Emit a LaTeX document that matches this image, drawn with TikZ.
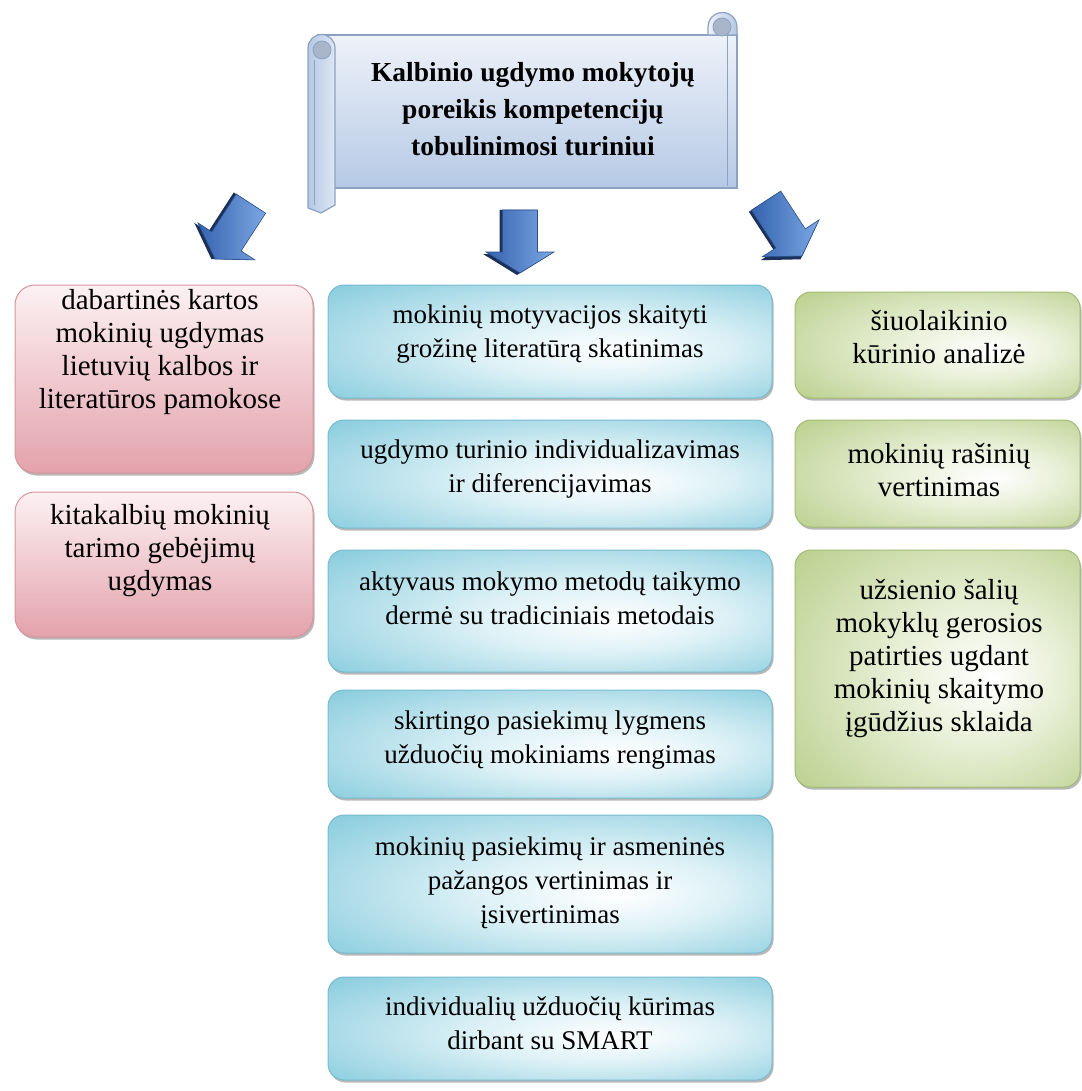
\documentclass[tikz,border=0pt]{standalone}
\usepackage{fontspec}
\setmainfont{Liberation Serif}
\usetikzlibrary{shadows}

% palette
\definecolor{pinkTop}{HTML}{FCF1F3}
\definecolor{pinkBot}{HTML}{E3A2AB}
\definecolor{pinkLine}{HTML}{D7939C}
\definecolor{blueEdge}{HTML}{86CBDD}
\definecolor{blueMid}{HTML}{DDF1F6}
\definecolor{blueLine}{HTML}{78BBCF}
\definecolor{greenEdge}{HTML}{B9CF8C}
\definecolor{greenMid}{HTML}{E9F0D8}
\definecolor{greenLine}{HTML}{A2BC72}
\definecolor{scrollTop}{HTML}{EEF2F9}
\definecolor{scrollBot}{HTML}{B5C9E5}
\definecolor{scrollLine}{HTML}{8CA2C2}
\definecolor{curlFill}{HTML}{A9B6C9}
\definecolor{arrowLight}{HTML}{7BA7E4}
\definecolor{arrowDark}{HTML}{3563AE}
\definecolor{arrowShade}{HTML}{1C3159}

\pgfdeclareradialshading{cyanglow}{\pgfpoint{8bp}{-4bp}}{%
  color(0bp)=(white); color(14bp)=(blueMid); color(38bp)=(blueEdge); color(50bp)=(blueEdge)}
\pgfdeclareradialshading{greenglow}{\pgfpoint{10bp}{-2bp}}{%
  color(0bp)=(white); color(14bp)=(greenMid); color(38bp)=(greenEdge); color(50bp)=(greenEdge)}

% block arrow: tip point, direction angle, length
\newcommand\dropArrow[3]{%
  \begin{scope}[shift={#1}, rotate=#2]
    \fill[arrowShade] (2,-3) -- (-19,31) -- (-19,14.5) -- (-#3,14.5) -- (-#3,-20.5)
      -- (-19,-20.5) -- (-19,-37) -- cycle;
    \path[draw=arrowDark!80!black, line width=0.6pt, left color=arrowDark, right color=arrowLight]
      (0,0) -- (-21,34) -- (-21,17.5) -- (-#3,17.5) -- (-#3,-17.5)
      -- (-21,-17.5) -- (-21,-34) -- cycle;
  \end{scope}}

\tikzset{
  boxbase/.style={rounded corners=16pt, line width=1pt, inner sep=0pt,
    drop shadow={shadow xshift=1.5pt, shadow yshift=-2.5pt, opacity=0.4, fill=black!70}},
  pinkbox/.style={boxbase, rounded corners=20pt, draw=pinkLine, top color=pinkTop, bottom color=pinkBot},
  bluebox/.style={boxbase, draw=blueLine, shading=cyanglow},
  greenbox/.style={boxbase, draw=greenLine, shading=greenglow},
  sidetext/.style={align=center, inner sep=0pt, font=\fontsize{29}{33}\selectfont},
  midtext/.style={align=center, inner sep=0pt, font=\fontsize{27}{34}\selectfont},
  titletext/.style={align=center, inner sep=0pt, font=\bfseries\fontsize{27.5}{37}\selectfont},
  scrollpart/.style={draw=scrollLine, line width=1.2pt},
}

\begin{document}
\begin{tikzpicture}[x=1pt, y=1pt]
\useasboundingbox (0,0) rectangle (1081,-1091);

% ---- scroll banner ----
\path[scrollpart, top color=scrollTop, bottom color=scrollBot]
  (318,-35) rectangle (737,-188);
% right curl
\path[scrollpart, left color=scrollTop, right color=scrollBot]
  (708,-35) -- (708,-27) arc (180:0:14.5) -- (737,-35) -- cycle;
\draw[scrollLine, line width=0.8pt] (727,-35) -- (727,-186);
\path[draw=scrollLine, fill=curlFill, line width=0.8pt] (722,-27) circle (9);
% left roll
\path[scrollpart, left color=scrollBot, right color=scrollTop!70!scrollBot]
  (308,-48) arc (180:0:13.5) -- (335,-205) -- (321,-213) -- (308,-208) -- cycle;
\draw[scrollLine, line width=0.8pt] (314,-60) -- (314,-205);
\path[draw=scrollLine, fill=curlFill, line width=0.8pt] (322,-50) circle (9);

\node[titletext] (title) at (533,-109)
  {Kalbinio ugdymo mokytojų\\poreikis kompetencijų\\tobulinimosi turiniui};

% ---- arrows ----
\dropArrow{(215,-259)}{-123}{66}
\dropArrow{(520,-273)}{-90}{63}
\dropArrow{(802,-256)}{-57}{66}

% ---- left column ----
\node[pinkbox, minimum width=298pt, minimum height=188pt] (p1) at (164,-379) {};
\node[sidetext] (p1t) at (160,-352)
  {dabartinės kartos\\mokinių ugdymas\\lietuvių kalbos ir\\literatūros pamokose};
\node[pinkbox, minimum width=298pt, minimum height=145pt] (p2) at (164,-564.5) {};
\node[sidetext] (p2t) at (160,-551)
  {kitakalbių mokinių\\tarimo gebėjimų\\ugdymas};

% ---- middle column ----
\node[bluebox, minimum width=444pt, minimum height=113pt] (b1) at (550,-341.5) {};
\node[midtext] (b1t) at (550,-334)
  {mokinių motyvacijos skaityti\\grožinę literatūrą skatinimas};
\node[bluebox, minimum width=444pt, minimum height=108pt] (b2) at (550,-474) {};
\node[midtext] (b2t) at (550,-469)
  {ugdymo turinio individualizavimas\\ir diferencijavimas};
\node[bluebox, minimum width=444pt, minimum height=122pt] (b3) at (550,-611) {};
\node[midtext] (b3t) at (550,-598)
  {aktyvaus mokymo metodų taikymo\\dermė su tradiciniais metodais};
\node[bluebox, minimum width=444pt, minimum height=108pt] (b4) at (550,-744) {};
\node[midtext] (b4t) at (550,-740)
  {skirtingo pasiekimų lygmens\\užduočių mokiniams rengimas};
\node[bluebox, minimum width=444pt, minimum height=138pt] (b5) at (550,-884) {};
\node[midtext] (b5t) at (550,-883)
  {mokinių pasiekimų ir asmeninės\\pažangos vertinimas ir\\įsivertinimas};
\node[bluebox, minimum width=444pt, minimum height=103pt] (b6) at (550,-1028.5) {};
\node[midtext] (b6t) at (550,-1023)
  {individualių užduočių kūrimas\\dirbant su SMART};

% ---- right column ----
\node[greenbox, minimum width=285pt, minimum height=106pt] (g1) at (937.5,-345) {};
\node[sidetext] (g1t) at (939,-337)
  {šiuolaikinio\\kūrinio analizė};
\node[greenbox, minimum width=285pt, minimum height=107pt] (g2) at (937.5,-473.5) {};
\node[sidetext] (g2t) at (939,-470)
  {mokinių rašinių\\vertinimas};
\node[greenbox, minimum width=285pt, minimum height=237pt] (g3) at (937.5,-668.5) {};
\node[sidetext] (g3t) at (939,-659)
  {užsienio šalių\\mokyklų gerosios\\patirties ugdant\\mokinių skaitymo\\įgūdžius sklaida};

\end{tikzpicture}
\end{document}
